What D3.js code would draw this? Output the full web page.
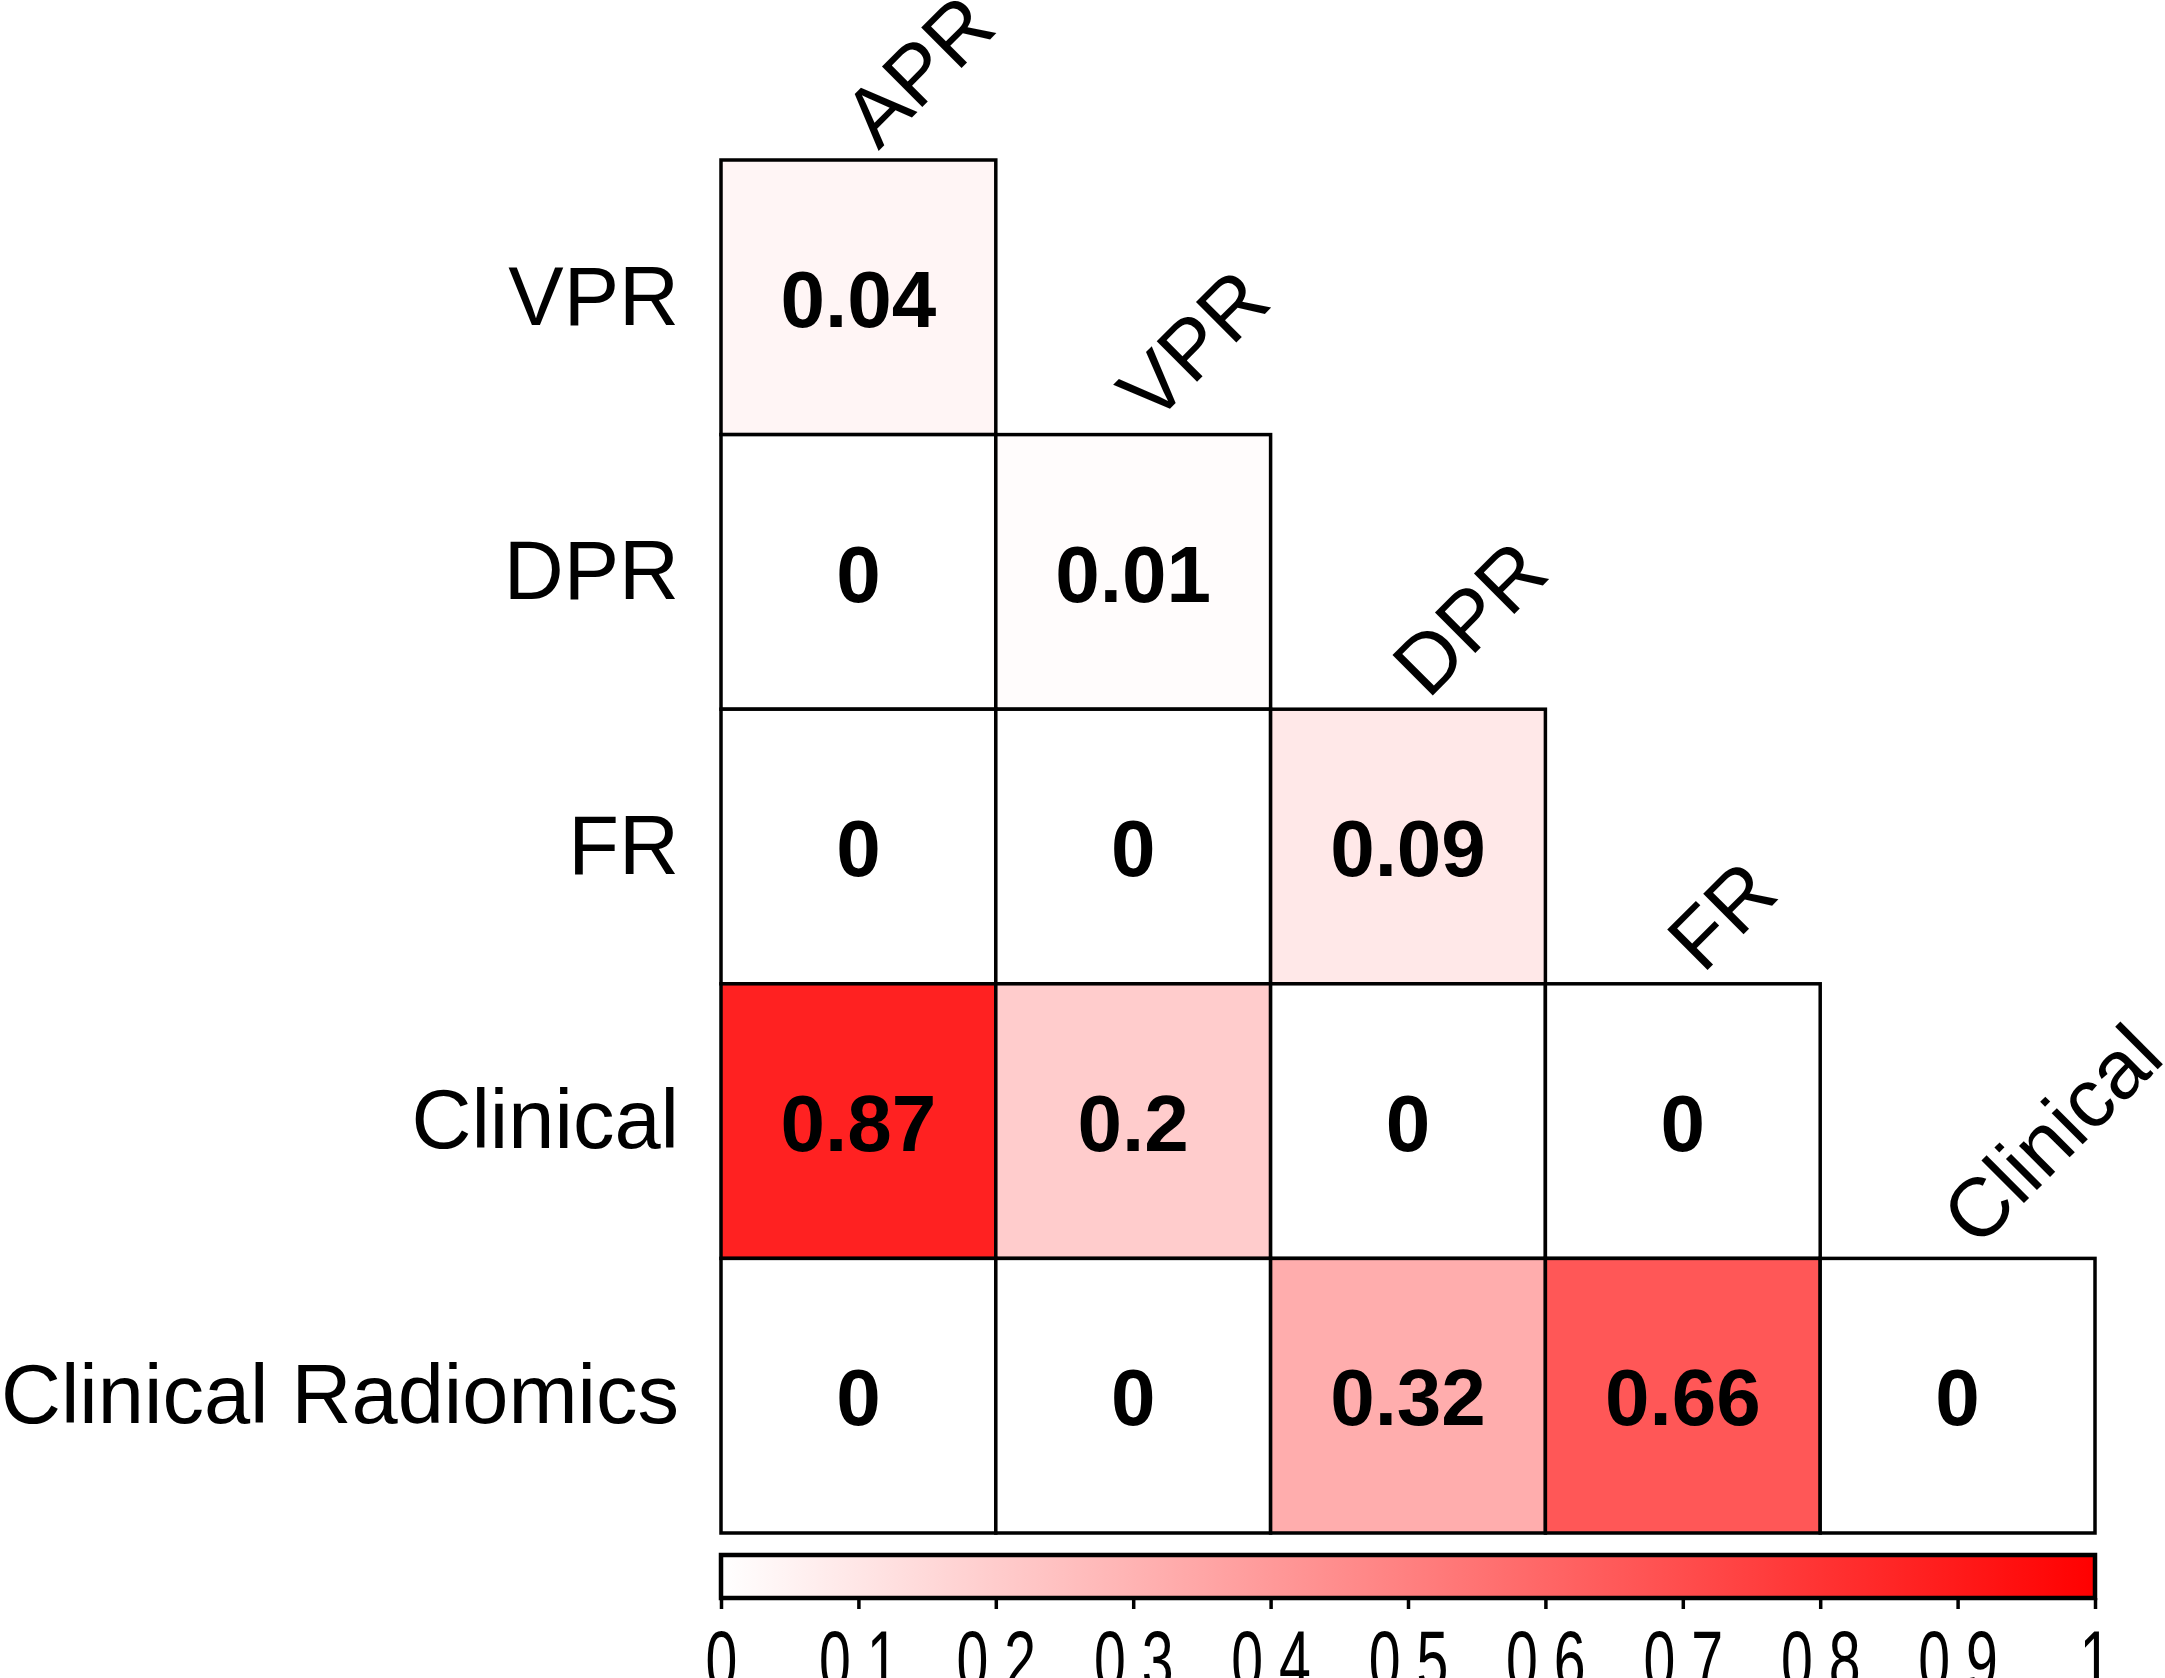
<!DOCTYPE html>
<html>
<head>
<meta charset="utf-8">
<script src="https://cdn.jsdelivr.net/npm/d3@7"></script>
<style>
    body { margin: 0; background: #ffffff; }
    svg text { font-family: "Liberation Sans", Arial, sans-serif; fill: #000000; }
</style>
</head>
<body>
<div id="chart"></div>
<script>

// labels down the left side and along the diagonal
var row_labels = ['VPR', 'DPR', 'FR', 'Clinical', 'Clinical Radiomics'];
var col_labels = ['APR', 'VPR', 'DPR', 'FR', 'Clinical'];

// lower triangle, one list per row (row i has i+1 cells)
var vpr_values = [0.04];
var dpr_values = [0, 0.01];
var fr_values = [0, 0, 0.09];
var clinical_values = [0.87, 0.2, 0, 0];
var clinical_radiomics_values = [0, 0, 0.32, 0.66, 0];

var legend_ticks = [0, 0.1, 0.2, 0.3, 0.4, 0.5, 0.6, 0.7, 0.8, 0.9, 1];
var legend_tick_labels = ['0', '0.1', '0.2', '0.3', '0.4', '0.5', '0.6', '0.7', '0.8', '0.9', '1'];

class Triangle_Heatmap {

    constructor(container = 'body', width = 2165, height = 1678) {
	this.width = width;
	this.height = height;
	this.left = 721;
	this.right = 2095;
	this.top = 160;
	this.bottom = 1533;
	this.svg = d3.select(container).append('svg')
		.attr('width', width)
		.attr('height', height);
	this.color = d3.scaleLinear()
		.domain([0, 1])
		.range(['#ffffff', '#ff0000'])
		.interpolate(d3.interpolateRgb);
    }

    bind_data(rows) {
	this.data = [];
	var self = this;
	rows.forEach(function (values, r) {
	    values.forEach(function (v, c) {
		self.data.push({row: row_labels[r], col: col_labels[c], value: v});
	    });
	});
	this.x = d3.scaleBand().domain(col_labels).range([this.left, this.right]);
	this.y = d3.scaleBand().domain(row_labels).range([this.top, this.bottom]);

	this.add_cells();
	this.add_row_labels();
	this.add_col_labels();
	this.add_legend();
    }

    add_cells() {
	var self = this;
	var g = this.svg.append('g').attr('class', 'cells');
	g.selectAll('rect')
		.data(this.data).join('rect')
		.attr('x', d => self.x(d.col))
		.attr('y', d => self.y(d.row))
		.attr('width', this.x.bandwidth())
		.attr('height', this.y.bandwidth())
		.style('fill', d => self.color(d.value))
		.style('stroke', '#000')
		.style('stroke-width', 3.5);
	g.selectAll('text')
		.data(this.data).join('text')
		.attr('x', d => self.x(d.col) + self.x.bandwidth() / 2)
		.attr('y', d => self.y(d.row) + self.y.bandwidth() / 2)
		.attr('dy', '0.37em')
		.attr('text-anchor', 'middle')
		.style('font-size', '80px')
		.style('font-weight', 'bold')
		.text(d => d.value);
    }

    add_row_labels() {
	var self = this;
	this.svg.append('g').selectAll('text')
		.data(row_labels).join('text')
		.attr('x', this.left - 42)
		.attr('y', d => self.y(d) + self.y.bandwidth() / 2)
		.attr('dy', '0.33em')
		.attr('text-anchor', 'end')
		.style('font-size', '83px')
		.text(d => d);
    }

    add_col_labels() {
	//each column label sits on top of that column's first cell
	var self = this;
	this.svg.append('g').selectAll('text')
		.data(col_labels).join('text')
		.attr('transform', function (d, i) {
		    var cx = self.x(d) + self.x.bandwidth() / 2 + 20;
		    var cy = self.y(row_labels[i]) - 9;
		    return 'translate(' + cx + ',' + cy + ') rotate(-45)';
		})
		.attr('text-anchor', 'start')
		.style('font-size', '83px')
		.text(d => d);
    }

    add_legend() {
	var bar_y = 1555;
	var bar_h = 43;
	var lx = d3.scaleLinear().domain([0, 1]).range([this.left, this.right]);
	var self = this;

	var grad = this.svg.append('defs').append('linearGradient')
		.attr('id', 'legend_grad')
		.attr('x1', '0%').attr('x2', '100%');
	grad.selectAll('stop')
		.data(legend_ticks).join('stop')
		.attr('offset', d => (d * 100) + '%')
		.attr('stop-color', d => self.color(d));

	this.svg.append('rect')
		.attr('x', this.left)
		.attr('y', bar_y)
		.attr('width', this.right - this.left)
		.attr('height', bar_h)
		.style('fill', 'url(#legend_grad)')
		.style('stroke', '#000')
		.style('stroke-width', 4.5);

	var axis = d3.axisBottom(lx)
		.tickValues(legend_ticks)
		.tickFormat((d, i) => legend_tick_labels[i])
		.tickSize(11)
		.tickPadding(21);
	var ag = this.svg.append('g')
		.attr('transform', 'translate(0,' + (bar_y + bar_h) + ')')
		.call(axis);
	ag.select('.domain').remove();
	ag.selectAll('.tick line').style('stroke', '#000').style('stroke-width', 3.5);
	//tick labels in the original are squeezed sideways
	ag.selectAll('.tick text')
		.attr('transform', 'scale(0.69,1)')
		.style('font-size', '83px')
		.style('font-family', '"Liberation Sans", Arial, sans-serif')
		.style('fill', '#000');
    }
}

var chart = new Triangle_Heatmap('#chart');
chart.bind_data([vpr_values, dpr_values, fr_values, clinical_values, clinical_radiomics_values]);
</script>
</body>
</html>
